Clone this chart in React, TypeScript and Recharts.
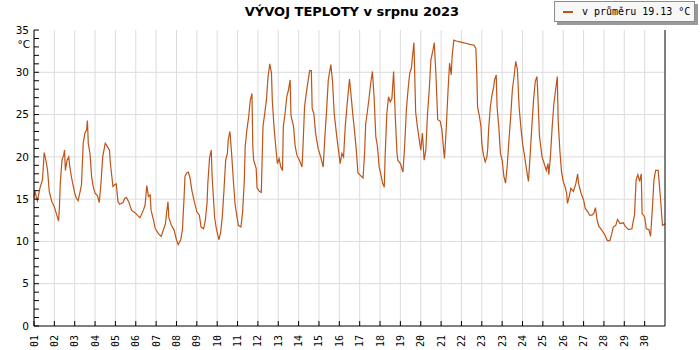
import React from 'react';
import { LineChart, Line, XAxis, YAxis, CartesianGrid } from 'recharts';

// labels under the day ticks (the source really prints 23 twice)
const dayLabels = [
  '01', '02', '03', '04', '05', '06', '07', '08', '09', '10', '11', '12', '13', '14', '15', '16',
  '17', '18', '19', '20', '21', '22', '23', '23', '24', '25', '26', '27', '28', '29', '30',
];

const yTicks = [
  0, 1, 2, 3, 4, 5, 6, 7, 8, 9, 10, 11, 12, 13, 14, 15, 16, 17, 18,
  19, 20, 21, 22, 23, 24, 25, 26, 27, 28, 29, 30, 31, 32, 33, 34, 35,
];
const gridValues = [5, 10, 15, 20, 25, 30];

// [hour of month, temperature °C]
const readings: [number, number][] = [
  [0, 15.2], [1, 16.0], [3, 15.1], [4, 14.8], [7, 16.3], [10, 17.3], [12, 20.5], [14, 19.6], [16, 18.4], [18, 15.9], [21, 14.7],
  [24, 14.1], [26, 13.4], [29, 12.4], [30, 14.1], [31, 16.9], [33, 19.6], [35, 20.2], [36, 20.8], [37, 18.4], [39, 19.6], [41, 20.0], [42, 19.0], [44, 17.7], [46, 16.7],
  [48, 15.7], [50, 15.1], [52, 14.8], [54, 15.7], [56, 16.7], [58, 21.6], [60, 22.8], [62, 23.2], [63, 24.3], [64, 21.6], [66, 20.4], [68, 17.6], [70, 16.4],
  [72, 15.7], [75, 15.4], [77, 14.6], [79, 16.9], [81, 20.0], [84, 21.6], [86, 21.3], [89, 20.8], [90, 19.3], [92, 17.5], [93, 16.5],
  [95, 16.7], [97, 16.8], [99, 14.7], [101, 14.4], [105, 14.6], [107, 15.1], [109, 15.2], [112, 14.6], [115, 13.7],
  [119, 13.4], [123, 13.0], [125, 12.8], [129, 13.7], [131, 14.3], [133, 16.6], [135, 15.3], [137, 15.5], [138, 13.7],
  [141, 12.5], [143, 11.5], [147, 10.9], [150, 10.6], [152, 11.2], [155, 12.1], [156, 13.1], [158, 14.7], [159, 12.8], [162, 11.9],
  [165, 11.4], [168, 10.2], [170, 9.6], [173, 10.2], [175, 11.4], [177, 15.3], [178, 17.7], [180, 18.1], [182, 18.2], [184, 17.5], [186, 16.1],
  [189, 14.7], [192, 13.5], [195, 13.1], [197, 11.7], [200, 11.5], [202, 12.5], [204, 14.5], [205, 16.9], [207, 19.9], [209, 20.8], [210, 17.7],
  [213, 12.8], [215, 11.5], [218, 10.2], [220, 11.0], [222, 12.9], [224, 16.1], [226, 19.6], [228, 20.4], [229, 22.0], [231, 23.0], [233, 20.4], [235, 17.3],
  [237, 14.5], [239, 13.1], [241, 11.9], [244, 11.7], [246, 13.5], [248, 17.3], [249, 21.2], [251, 23.2], [253, 24.6], [255, 26.7], [257, 27.5], [258, 21.2], [259, 19.6],
  [262, 18.6], [263, 16.3], [266, 15.9], [268, 15.8], [270, 23.6], [272, 25.1], [274, 26.7], [276, 29.5], [278, 31.0], [280, 29.9], [281, 26.6], [283, 23.6],
  [285, 21.2], [287, 19.2], [289, 19.8], [291, 18.8], [293, 18.4], [294, 23.6], [296, 25.1], [298, 27.1], [300, 27.9], [302, 29.1], [303, 24.9], [306, 23.6],
  [308, 21.2], [310, 20.2], [313, 19.6], [316, 18.8], [317, 20.8], [319, 25.9], [321, 27.5], [325, 30.2], [327, 30.2], [328, 25.7], [330, 25.1],
  [332, 22.8], [335, 21.0], [338, 20.0], [341, 18.8], [343, 22.4], [345, 25.5], [347, 29.1], [350, 30.9], [352, 28.9], [354, 25.1],
  [357, 22.4], [359, 20.8], [361, 19.2], [363, 20.4], [365, 20.0], [367, 23.6], [369, 26.0], [372, 29.2], [374, 27.1], [376, 24.9],
  [378, 23.0], [380, 20.8], [382, 18.1], [384, 17.9], [386, 17.7], [388, 17.5], [390, 20.8], [391, 23.8], [393, 25.3], [395, 26.9], [397, 28.7], [399, 30.1],
  [401, 27.1], [403, 22.4], [405, 21.2], [407, 18.8], [409, 17.9], [411, 16.9], [413, 16.4], [414, 20.0], [416, 25.1], [418, 27.1], [420, 26.5], [422, 26.9],
  [424, 30.1], [426, 24.7], [428, 20.4], [429, 19.6], [432, 19.2], [435, 18.2], [437, 21.2], [439, 25.5], [441, 27.9], [443, 29.9], [445, 30.5], [447, 32.6],
  [448, 33.5], [450, 25.3], [452, 23.6], [454, 22.2], [456, 20.8], [458, 22.8], [460, 19.6], [462, 20.8], [464, 25.1], [466, 27.9], [468, 31.5], [470, 32.4],
  [472, 33.5], [474, 29.5], [476, 24.4], [479, 24.2], [481, 23.2], [483, 20.8], [484, 19.8], [486, 23.2], [488, 27.5], [490, 31.1], [492, 29.7], [493, 31.9],
  [495, 33.8], [498, 33.7], [502, 33.6], [506, 33.5], [510, 33.4], [514, 33.3], [519, 33.2], [521, 32.8], [522, 30.1], [523, 25.9], [525, 24.9], [527, 23.6],
  [528, 21.6], [530, 20.2], [532, 19.4], [534, 20.0], [535, 21.0], [536, 23.2], [538, 25.9], [540, 27.3], [542, 28.3], [543, 29.1], [545, 29.7], [546, 25.9],
  [548, 23.6], [550, 20.4], [552, 19.6], [554, 17.7], [556, 16.9], [558, 19.0], [560, 22.0], [562, 24.7], [564, 27.9], [566, 29.5], [568, 31.3], [570, 30.3],
  [572, 25.9], [574, 23.6], [576, 21.6], [578, 20.4], [580, 19.0], [582, 17.7], [583, 17.1], [585, 20.2], [587, 23.6], [589, 26.7], [591, 28.9], [593, 29.5],
  [594, 27.5], [596, 22.4], [599, 20.0], [601, 19.4], [604, 18.4], [606, 19.2], [607, 17.9], [609, 20.2], [611, 23.6], [613, 26.3], [615, 27.9], [617, 29.5],
  [618, 24.4], [619, 22.6], [620, 20.8], [622, 18.2], [624, 17.1], [626, 16.5], [628, 15.7], [629, 14.5], [631, 15.3], [633, 16.3], [636, 15.9], [639, 16.9],
  [641, 18.0], [642, 16.9], [645, 15.7], [648, 14.9], [650, 13.9], [653, 13.5], [655, 13.1], [658, 13.1], [660, 13.3], [662, 14.0], [664, 12.5], [666, 11.8],
  [669, 11.4], [673, 10.8], [676, 10.1], [679, 10.1], [681, 10.8], [683, 11.7], [686, 11.9], [688, 12.6], [691, 12.1], [695, 12.2], [697, 11.8], [701, 11.4],
  [705, 11.5], [706, 12.1], [708, 13.1], [710, 17.3], [712, 17.9], [714, 17.1], [716, 18.0], [717, 13.3], [720, 12.9], [722, 11.5], [725, 11.4], [727, 10.6],
  [729, 13.7], [731, 17.3], [733, 18.4], [736, 18.4], [739, 14.7], [741, 11.9], [744, 12.1],
];

const data = readings.map(([hour, temp]) => ({ hour, temp }));
const dayTicks = dayLabels.map((_, i) => i * 24);

const LINE = '#bf5418';
const FONT = '"DejaVu Sans", sans-serif';
const MONO = '"DejaVu Sans Mono", monospace';

// tick marks point into the plot (negative tickSize); these only draw the labels
const DayTick = (props: any) => {
  const { x, y, payload } = props;
  const label = dayLabels[Math.round(payload.value / 24)];
  return (
    <text
      x={0}
      y={0}
      transform={`translate(${x},${y}) rotate(-90)`}
      textAnchor="end"
      dy="0.35em"
      fontSize={10}
      fontFamily={MONO}
      fill="#000"
    >
      {label}
    </text>
  );
};

const ValueTick = (props: any) => {
  const { x, y, payload, anchor } = props;
  if (payload.value % 5 !== 0) return null;
  return (
    <text x={x} y={y} dy="0.35em" textAnchor={anchor} fontSize={10.5} fontFamily={FONT} fill="#000">
      {payload.value}
    </text>
  );
};

export default function App() {
  return (
    <div style={{ position: 'relative', width: 700, height: 350, background: '#fff' }}>
      <style>{'body { margin: 0; }'}</style>
      <LineChart width={700} height={350} data={data} margin={{ top: 30, right: 0, bottom: 0, left: 0 }}>
        <CartesianGrid
          yAxisId="left"
          stroke="#dcdcdc"
          horizontalValues={gridValues}
          verticalValues={dayTicks}
        />
        <XAxis
          dataKey="hour"
          type="number"
          domain={[0, 744]}
          ticks={dayTicks}
          interval={0}
          height={24}
          tickSize={-5}
          tickMargin={14}
          tickLine={{ stroke: '#000' }}
          tick={<DayTick />}
          axisLine={{ stroke: '#000' }}
        />
        <YAxis
          yAxisId="left"
          domain={[0, 35]}
          ticks={yTicks}
          interval={0}
          width={34}
          tickSize={-5}
          tickMargin={10}
          tickLine={{ stroke: '#000' }}
          tick={<ValueTick anchor="end" />}
          axisLine={{ stroke: '#000' }}
        />
        <YAxis
          yAxisId="right"
          orientation="right"
          domain={[0, 35]}
          ticks={yTicks}
          interval={0}
          width={35}
          tickSize={-5}
          tickMargin={11}
          tickLine={{ stroke: '#000' }}
          tick={<ValueTick anchor="start" />}
          axisLine={{ stroke: '#000' }}
        />
        <Line
          yAxisId="left"
          type="linear"
          dataKey="temp"
          stroke={LINE}
          strokeWidth={1.2}
          dot={false}
          isAnimationActive={false}
        />
      </LineChart>

      <div
        style={{
          position: 'absolute', left: 0, top: 4, width: 700, paddingLeft: 4, boxSizing: 'border-box',
          textAlign: 'center', fontFamily: FONT, fontWeight: 'bold', fontSize: 13, lineHeight: '16px',
        }}
      >
        VÝVOJ TEPLOTY v srpnu 2023
      </div>

      <div
        style={{
          position: 'absolute', left: 0, top: 37, width: 30, textAlign: 'right',
          fontFamily: FONT, fontSize: 10.5, lineHeight: '14px',
        }}
      >
        °C
      </div>

      <div
        style={{
          position: 'absolute', left: 554, top: 1, width: 141, height: 21, boxSizing: 'border-box',
          background: '#f7f7f7', border: '1px solid #8c8c8c', boxShadow: '3px 3px 0 #9a9a9a',
          display: 'flex', alignItems: 'center', fontFamily: MONO, fontSize: 10, whiteSpace: 'nowrap',
        }}
      >
        <span style={{ display: 'inline-block', width: 10, height: 2, background: LINE, margin: '0 9px 0 8px' }} />
        v průměru 19.13 °C
      </div>
    </div>
  );
}
